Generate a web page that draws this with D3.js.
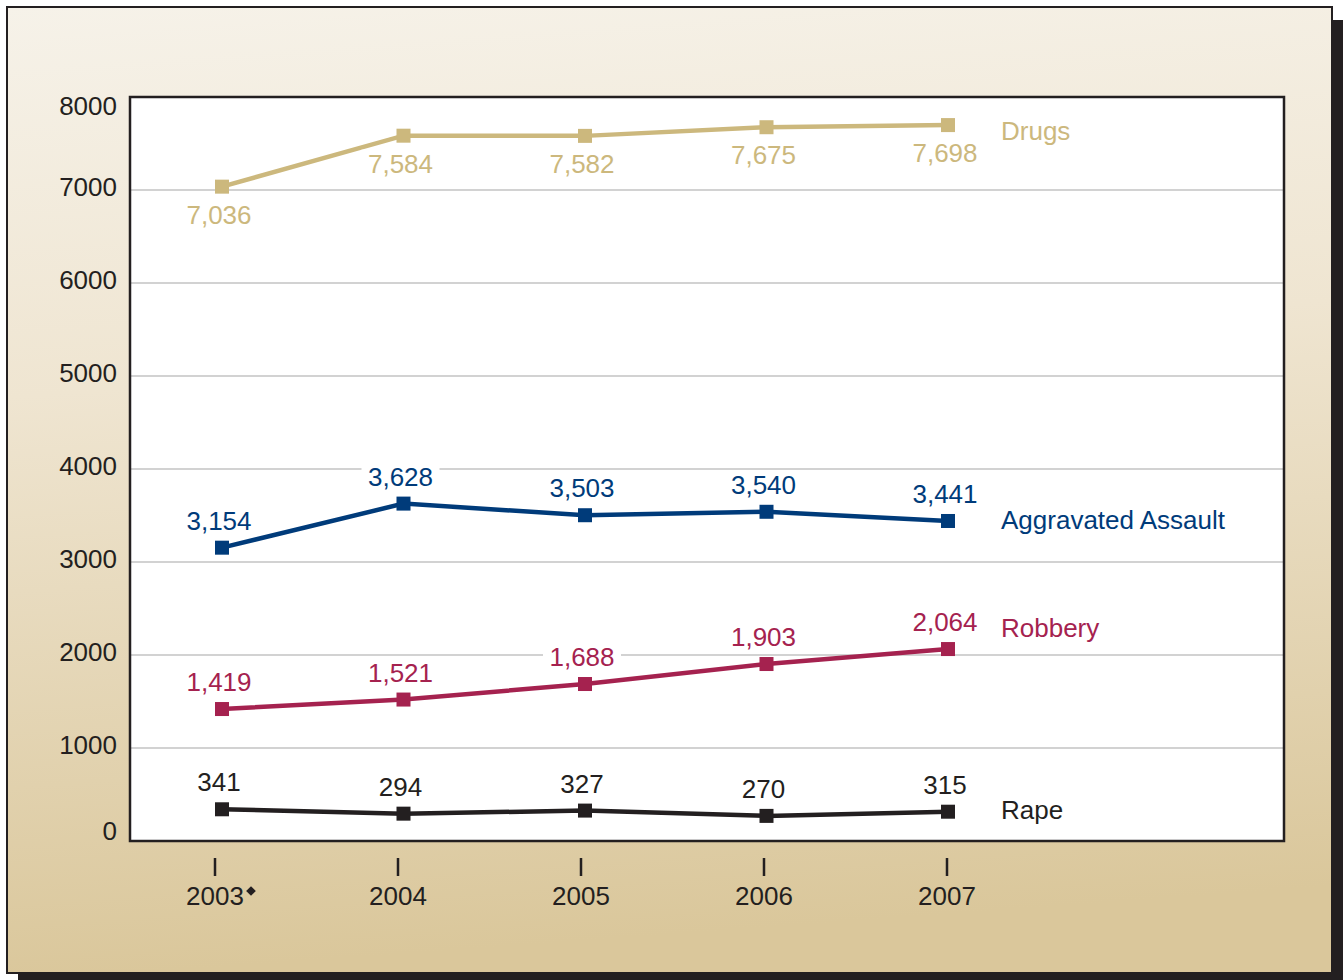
<!DOCTYPE html>
<html>
<head>
  <meta charset="utf-8">
  <script src="https://cdn.jsdelivr.net/npm/d3@7/dist/d3.min.js"></script>
  <style>
    body {
      margin: 0;
      background-color: white;
    }
    svg {
      display: block;
      font-family: "Liberation Sans", Arial, sans-serif;
    }
  </style>
</head>
<body>
  <svg width="1343" height="980"></svg>
  <script>
    // data
    var years = [2003, 2004, 2005, 2006, 2007];
    var yearLabels = ["2003", "2004", "2005", "2006", "2007"];
    var yTicks = [0, 1000, 2000, 3000, 4000, 5000, 6000, 7000, 8000];

    var seriesNames = ["Drugs", "Aggravated Assault", "Robbery", "Rape"];
    var drugs = [7036, 7584, 7582, 7675, 7698];
    var assault = [3154, 3628, 3503, 3540, 3441];
    var robbery = [1419, 1521, 1688, 1903, 2064];
    var rape = [341, 294, 327, 270, 315];

    // styling for each series (same order as seriesNames)
    var colours = ["#ccb87d", "#003b7a", "#a5224f", "#231f20"];
    var labelBelow = [true, false, false, false];
    var nameDy = [15, 8, -12, 7];

    var allValues = [drugs, assault, robbery, rape];

    var svg = d3.select("svg");

    //gradient for the panel
    var defs = svg.append("defs");
    var grad = defs.append("linearGradient")
      .attr("id", "panelGrad")
      .attr("x1", "0").attr("y1", "0")
      .attr("x2", "0.1").attr("y2", "1");
    grad.append("stop").attr("offset", "0%").attr("stop-color", "#f6f2e9");
    grad.append("stop").attr("offset", "40%").attr("stop-color", "#efe5d1");
    grad.append("stop").attr("offset", "100%").attr("stop-color", "#dac79b");

    //shadow and panel
    svg.append("rect")
      .attr("x", 18).attr("y", 20)
      .attr("width", 1325).attr("height", 966)
      .attr("fill", "#231f20");
    svg.append("rect")
      .attr("x", 7).attr("y", 7)
      .attr("width", 1325).attr("height", 966)
      .attr("fill", "url(#panelGrad)")
      .attr("stroke", "#231f20")
      .attr("stroke-width", 2);

    var plot = { left: 130, top: 97, right: 1284, bottom: 841 };

    var x = d3.scaleLinear().domain([2003, 2007]).range([222, 948]);
    var xTick = d3.scaleLinear().domain([2003, 2007]).range([215, 947]);
    var y = d3.scaleLinear().domain([0, 8000]).range([plot.bottom, plot.top]);

    //plot background
    svg.append("rect")
      .attr("x", plot.left).attr("y", plot.top)
      .attr("width", plot.right - plot.left)
      .attr("height", plot.bottom - plot.top)
      .attr("fill", "white");

    //gridlines
    svg.append("g")
      .selectAll("line")
      .data(yTicks.filter(function(d) { return d > 0 && d < 8000; }))
      .enter()
      .append("line")
      .attr("x1", plot.left).attr("x2", plot.right)
      .attr("y1", function(d) { return y(d); })
      .attr("y2", function(d) { return y(d); })
      .attr("stroke", "#d2d2d2")
      .attr("stroke-width", 2);

    //plot border
    svg.append("rect")
      .attr("x", plot.left).attr("y", plot.top)
      .attr("width", plot.right - plot.left)
      .attr("height", plot.bottom - plot.top)
      .attr("fill", "none")
      .attr("stroke", "#231f20")
      .attr("stroke-width", 2.5);

    //y axis labels
    svg.append("g")
      .selectAll("text")
      .data(yTicks)
      .enter()
      .append("text")
      .attr("x", 117)
      .attr("y", function(d) {
        return Math.max(plot.top + 18, Math.min(plot.bottom - 1, y(d) + 6));
      })
      .attr("text-anchor", "end")
      .attr("font-size", "26px")
      .attr("fill", "#231f20")
      .text(function(d) { return d; });

    //x axis ticks and labels
    var xAxis = svg.append("g");
    xAxis.selectAll("line")
      .data(years)
      .enter()
      .append("line")
      .attr("x1", function(d) { return xTick(d); })
      .attr("x2", function(d) { return xTick(d); })
      .attr("y1", 858).attr("y2", 876)
      .attr("stroke", "#231f20")
      .attr("stroke-width", 2.5);

    xAxis.selectAll("text")
      .data(years)
      .enter()
      .append("text")
      .attr("x", function(d) { return xTick(d); })
      .attr("y", 905)
      .attr("text-anchor", "middle")
      .attr("font-size", "26px")
      .attr("fill", "#231f20")
      .text(function(d, i) { return yearLabels[i]; });

    // the little diamond after 2003
    xAxis.append("path")
      .attr("d", d3.symbol().type(d3.symbolDiamond2).size(60))
      .attr("transform", "translate(" + (xTick(2003) + 36) + ",891)")
      .attr("fill", "#231f20");

    var line = d3.line()
      .x(function(d, i) { return x(years[i]); })
      .y(function(d) { return y(d); });

    var fmt = d3.format(",");

    allValues.forEach(function(vals, s) {
      var g = svg.append("g");

      g.append("path")
        .datum(vals)
        .attr("d", line)
        .attr("fill", "none")
        .attr("stroke", colours[s])
        .attr("stroke-width", 4.5);

      g.selectAll("rect.marker")
        .data(vals)
        .enter()
        .append("rect")
        .attr("class", "marker")
        .attr("x", function(d, i) { return x(years[i]) - 7; })
        .attr("y", function(d) { return y(d) - 7; })
        .attr("width", 14).attr("height", 14)
        .attr("fill", colours[s]);

      //value labels with white backing
      var labels = g.selectAll("g.lbl")
        .data(vals)
        .enter()
        .append("g")
        .attr("class", "lbl");

      labels.append("rect")
        .attr("x", function(d, i) { return x(years[i]) - 3 - 39; })
        .attr("y", function(d) { return y(d) + (labelBelow[s] ? 37 : -18) - 23; })
        .attr("width", 78)
        .attr("height", 27)
        .attr("fill", "white");

      labels.append("text")
        .attr("x", function(d, i) { return x(years[i]) - 3; })
        .attr("y", function(d) { return y(d) + (labelBelow[s] ? 37 : -18); })
        .attr("text-anchor", "middle")
        .attr("font-size", "26px")
        .attr("fill", colours[s])
        .text(function(d) { return fmt(d); });

      //series name
      g.append("text")
        .attr("x", 1001)
        .attr("y", y(vals[vals.length - 1]) + nameDy[s])
        .attr("font-size", "26px")
        .attr("fill", colours[s])
        .text(seriesNames[s]);
    });
  </script>
</body>
</html>
